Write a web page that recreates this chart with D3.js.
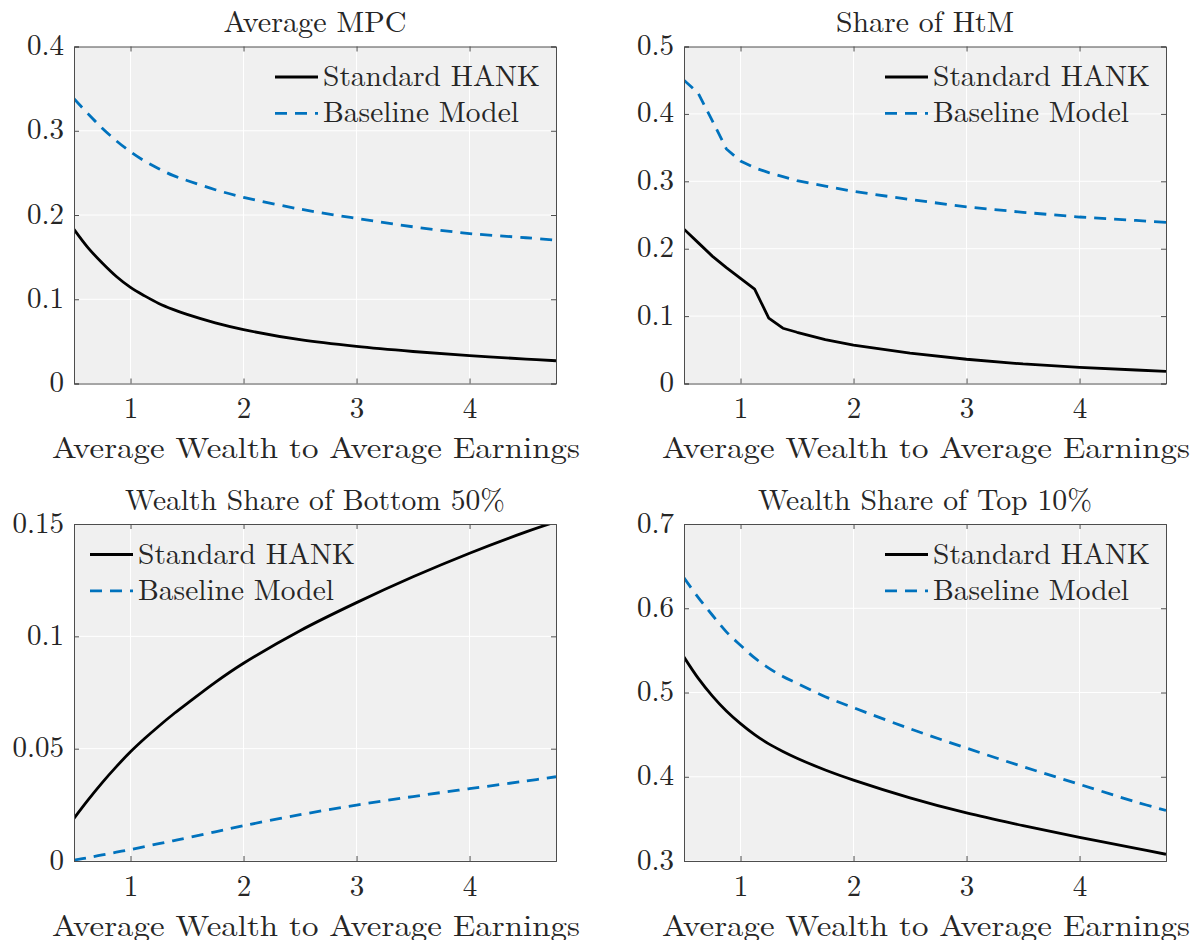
<!DOCTYPE html>
<html>
<head>
<meta charset="utf-8">
<script src="https://cdnjs.cloudflare.com/ajax/libs/d3/7.8.5/d3.min.js"></script>
<style>
  body { margin: 0; background: #fff; }
  svg { display: block; }
  text { font-family: "Latin Modern Roman", "CMU Serif", "Liberation Serif", serif; fill: #262626; }
</style>
</head>
<body>
<div id="chart"></div>
<script>
// x grid: average wealth to average earnings
var wealthRatio = [0.5, 0.625, 0.75, 0.875, 1.0, 1.125, 1.25, 1.375, 1.5, 1.75, 2.0, 2.5, 3.0, 3.5, 4.0, 4.5, 4.765];

var mpcStandard = [0.183, 0.161, 0.143, 0.127, 0.114, 0.104, 0.095, 0.088, 0.082, 0.072, 0.064, 0.052, 0.044, 0.038, 0.033, 0.029, 0.027];
var mpcBaseline = [0.338, 0.320, 0.303, 0.288, 0.275, 0.264, 0.255, 0.247, 0.241, 0.230, 0.221, 0.207, 0.196, 0.186, 0.178, 0.173, 0.170];

var htmStandard = [0.229, 0.209, 0.189, 0.172, 0.156, 0.140, 0.097, 0.082, 0.076, 0.065, 0.057, 0.045, 0.036, 0.029, 0.024, 0.020, 0.018];
var htmBaseline = [0.450, 0.431, 0.390, 0.348, 0.330, 0.320, 0.313, 0.307, 0.301, 0.293, 0.285, 0.273, 0.262, 0.254, 0.247, 0.242, 0.239];

var bottom50Standard = [0.019, 0.0272, 0.0349, 0.042, 0.0486, 0.0545, 0.060, 0.0652, 0.070, 0.0795, 0.088, 0.1025, 0.115, 0.1265, 0.137, 0.1465, 0.151];
var bottom50Baseline = [0.0004, 0.0015, 0.0027, 0.0039, 0.0051, 0.0064, 0.0077, 0.0090, 0.0103, 0.0130, 0.0157, 0.0206, 0.0249, 0.0287, 0.0322, 0.0356, 0.0375];

var top10Standard = [0.542, 0.517, 0.496, 0.478, 0.463, 0.450, 0.439, 0.430, 0.422, 0.408, 0.396, 0.375, 0.357, 0.342, 0.328, 0.315, 0.308];
var top10Baseline = [0.636, 0.613, 0.592, 0.572, 0.556, 0.541, 0.529, 0.519, 0.511, 0.495, 0.482, 0.457, 0.434, 0.412, 0.391, 0.370, 0.360];

var seriesNames = ["Standard HANK", "Baseline Model"];
var panelTitles = ["Average MPC", "Share of HtM", "Wealth Share of Bottom 50%", "Wealth Share of Top 10%"];
var xLabel = "Average Wealth to Average Earnings";
var xTicks = [1, 2, 3, 4];
var yTicks = [
  [0, 0.1, 0.2, 0.3, 0.4],
  [0, 0.1, 0.2, 0.3, 0.4, 0.5],
  [0, 0.05, 0.1, 0.15],
  [0.3, 0.4, 0.5, 0.6, 0.7]
];
var panelSeries = [
  [mpcStandard, mpcBaseline],
  [htmStandard, htmBaseline],
  [bottom50Standard, bottom50Baseline],
  [top10Standard, top10Baseline]
];
var legendCorner = ["ne", "ne", "nw", "ne"];
// HtM has kinks, keep it as a polyline
var smooth = d3.curveCatmullRom.alpha(0.5);
var panelCurves = [smooth, d3.curveLinear, smooth, smooth];

// layout
var width = 1191, height = 940;
var plotW = 482, plotH = 337;
var lefts = [74, 684, 74, 684];
var tops = [46.5, 46.5, 524, 524];
var blue = "#0072BD";
var fontSize = 29;
var lineW = 2.8;
var dash = "12,8";

var svg = d3.select("#chart").append("svg")
  .attr("width", width)
  .attr("height", height);

// stretch a text node horizontally to a target width (serif metrics are narrower than the original)
function fitText(sel, w) {
  sel.attr("textLength", w).attr("lengthAdjust", "spacingAndGlyphs");
}

var titleWidths = [183, 178, 380, 334];

panelTitles.forEach(function(title, i) {
  var x = d3.scaleLinear().domain([0.5, 4.765]).range([0, plotW]);
  var yt = yTicks[i];
  var y = d3.scaleLinear().domain([yt[0], yt[yt.length - 1]]).range([plotH, 0]);

  var g = svg.append("g")
    .attr("transform", "translate(" + lefts[i] + "," + tops[i] + ")");

  g.append("rect")
    .attr("width", plotW)
    .attr("height", plotH)
    .attr("fill", "#f0f0f0");

  // grid
  g.selectAll(".vgrid").data(xTicks).enter().append("line")
    .attr("x1", x).attr("x2", x)
    .attr("y1", 0).attr("y2", plotH)
    .attr("stroke", "#fff").attr("stroke-width", 1);
  g.selectAll(".hgrid").data(yt).enter().append("line")
    .attr("x1", 0).attr("x2", plotW)
    .attr("y1", y).attr("y2", y)
    .attr("stroke", "#fff").attr("stroke-width", 1);

  // clip for the curves
  g.append("clipPath").attr("id", "clip" + i)
    .append("rect").attr("width", plotW).attr("height", plotH);

  var line = d3.line()
    .x(function(d, k) { return x(wealthRatio[k]); })
    .y(function(d) { return y(d); })
    .curve(panelCurves[i]);

  var series = panelSeries[i];
  g.append("path")
    .datum(series[0])
    .attr("clip-path", "url(#clip" + i + ")")
    .attr("d", line)
    .attr("fill", "none")
    .attr("stroke", "#000")
    .attr("stroke-width", lineW)
    .attr("stroke-linejoin", "round");
  g.append("path")
    .datum(series[1])
    .attr("clip-path", "url(#clip" + i + ")")
    .attr("d", line)
    .attr("fill", "none")
    .attr("stroke", blue)
    .attr("stroke-width", lineW)
    .attr("stroke-dasharray", dash);

  // axes: ticks inside, on all four sides
  var tickLen = 5;
  var bottomAxis = d3.axisBottom(x).tickValues(xTicks).tickSize(-tickLen).tickPadding(10).tickFormat(d3.format("d"));
  var topAxis = d3.axisTop(x).tickValues(xTicks).tickSize(-tickLen).tickFormat("");
  var fmt = function(d) { return d === 0 ? "0" : String(+d.toFixed(2)); };
  var leftAxis = d3.axisLeft(y).tickValues(yt).tickSize(-tickLen).tickPadding(10).tickFormat(fmt);
  var rightAxis = d3.axisRight(y).tickValues(yt).tickSize(-tickLen).tickFormat("");

  var gx = g.append("g").attr("transform", "translate(0," + plotH + ")").call(bottomAxis);
  var gt = g.append("g").call(topAxis);
  var gy = g.append("g").call(leftAxis);
  var gr = g.append("g").attr("transform", "translate(" + plotW + ",0)").call(rightAxis);

  [gx, gt, gy, gr].forEach(function(a) {
    a.select(".domain").attr("stroke", "#4d4d4d").attr("stroke-width", 1);
    a.selectAll(".tick line").attr("stroke", "#4d4d4d").attr("stroke-width", 1);
    a.selectAll("text").attr("font-family", null).style("font-size", fontSize + "px").attr("fill", "#262626");
  });
  gx.selectAll(".tick text").attr("dy", null).attr("y", 34.5);
  gy.selectAll(".tick text").attr("dy", null).attr("y", 8).attr("x", -10);

  // title
  fitText(g.append("text")
    .attr("x", plotW / 2)
    .attr("y", -14.5)
    .attr("text-anchor", "middle")
    .style("font-size", "29.5px")
    .text(title), titleWidths[i]);

  // x label
  fitText(g.append("text")
    .attr("x", plotW / 2 + 1)
    .attr("y", plotH + 74.5)
    .attr("text-anchor", "middle")
    .style("font-size", "29.5px")
    .text(xLabel), 528);

  // legend
  var legendW = 43 + 5 + 217;
  var lx = legendCorner[i] === "ne" ? plotW - 16 - legendW : 16;
  var legendWidths = [217, 196];
  seriesNames.forEach(function(name, k) {
    var ly = 30.5 + k * 36.3;
    g.append("line")
      .attr("x1", lx).attr("x2", lx + 43)
      .attr("y1", ly).attr("y2", ly)
      .attr("stroke", k === 0 ? "#000" : blue)
      .attr("stroke-width", lineW)
      .attr("stroke-dasharray", k === 0 ? null : dash);
    fitText(g.append("text")
      .attr("x", lx + 48)
      .attr("y", ly + 9)
      .style("font-size", "29px")
      .text(name), legendWidths[k]);
  });
});
</script>
</body>
</html>
